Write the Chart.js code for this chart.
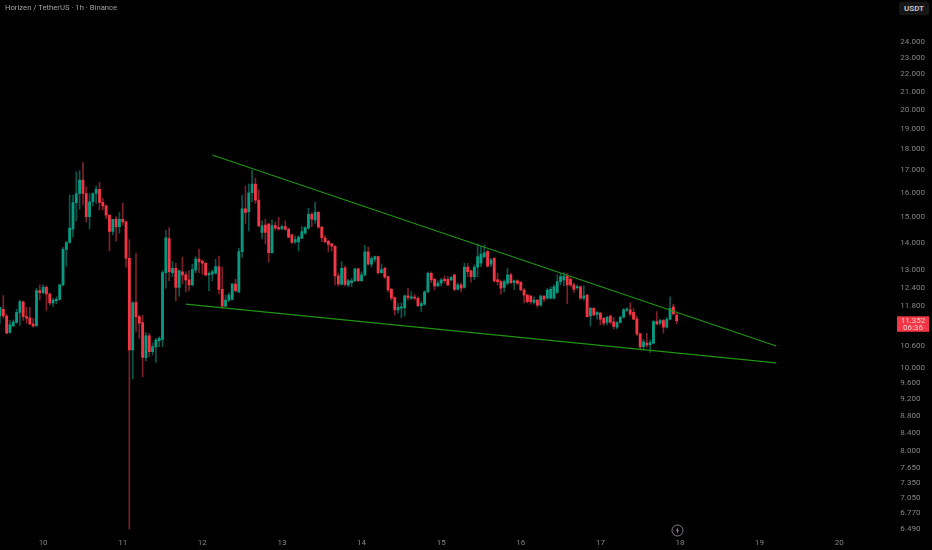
<!DOCTYPE html>
<html>
<head>
<meta charset="utf-8">
<title>Horizen / TetherUS</title>
<script src="https://cdn.jsdelivr.net/npm/chart.js@4"></script>
<style>
  html, body { margin: 0; background: #000; }
  #wrap { position: relative; width: 932px; height: 550px; overflow: hidden; }
  #title { position: absolute; left: 5px; top: 3px; font: 7.7px Roboto, sans-serif; color: #a79fa6; white-space: nowrap; }
  #unit { position: absolute; left: 899px; top: 2px; width: 30px; height: 13px; line-height: 13px; text-align: center;
          font: bold 8px/13px Roboto, sans-serif; color: #c4bec3; background: #161616; border-radius: 2px; }
  #flash { position: absolute; left: 671px; top: 524px; }
</style>
</head>
<body>
<div id="wrap">
  <canvas id="chart" width="932" height="550"></canvas>
  <div id="title">Horizen / TetherUS · 1h · Binance</div>
  <div id="unit">USDT</div>
  <svg id="flash" width="13" height="13" viewBox="0 0 13 13">
    <circle cx="6.5" cy="6.5" r="5.5" fill="none" stroke="#8a7f86" stroke-width="1"/>
    <path d="M7.2 3.2 L5 6.8 H6.2 L5.8 9.8 L8 6.2 H6.8 Z" fill="#a88f9b"/>
  </svg>
</div>
<script>
const opens = [
  11.50,11.71,11.50,11.00,11.20,11.30,11.61,11.94,11.48,11.44,
  11.26,11.20,12.31,12.24,12.42,12.20,11.91,11.98,12.02,12.50,
  13.75,14.01,14.53,15.59,15.98,16.57,15.98,15.02,15.63,15.98,
  16.16,15.60,15.46,15.08,14.43,14.92,14.62,14.91,14.81,13.43,
  10.50,11.93,11.48,11.30,10.28,10.90,10.45,10.58,10.76,10.80,
  12.92,14.16,12.92,13.07,12.42,12.95,12.84,12.67,12.50,13.01,
  13.40,13.33,13.25,12.84,12.87,12.90,13.13,12.35,11.81,12.00,
  12.02,12.53,12.27,13.67,15.33,15.22,16.01,16.39,15.70,14.39,
  14.68,14.72,13.63,14.66,14.58,14.53,14.62,14.52,14.30,14.03,
  14.03,14.16,14.36,14.56,15.11,14.88,15.19,14.60,14.19,14.06,
  13.96,13.87,12.81,12.52,13.09,12.50,12.58,12.64,13.05,12.64,
  12.84,13.66,13.22,13.40,13.49,12.92,13.07,12.78,12.35,12.08,
  11.69,11.74,11.76,12.14,12.06,12.10,12.06,11.82,11.87,12.27,
  12.90,12.69,12.47,12.56,12.70,12.69,12.67,12.84,12.35,12.50,
  12.42,13.11,12.98,12.78,13.11,13.25,13.49,13.67,13.22,13.43,
  12.67,12.61,12.42,12.56,12.84,12.58,12.64,12.59,12.33,12.16,
  12.13,11.93,12.00,11.84,12.13,12.06,12.06,12.06,12.25,12.61,
  12.67,12.80,12.69,12.50,12.41,12.44,12.06,12.16,11.50,11.74,
  11.54,11.59,11.43,11.30,11.50,11.32,11.16,11.30,11.46,11.68,
  11.69,11.61,11.41,10.96,10.59,10.69,10.64,10.69,11.33,11.28,
  11.36,11.16,11.40,11.79,11.53
];
const highs = [
  11.77,12.15,11.56,11.36,11.38,11.71,12.00,11.98,11.77,11.77,
  11.43,12.39,12.50,12.50,12.47,12.24,12.06,12.11,12.52,13.83,
  14.04,15.91,15.91,16.94,16.99,17.37,16.27,15.98,16.01,16.30,
  16.47,15.77,15.50,15.08,14.91,15.02,15.18,15.56,14.85,14.12,
  11.95,13.61,11.53,11.53,11.00,10.98,10.69,10.83,10.88,12.99,
  14.47,14.58,13.31,13.25,12.99,13.47,12.95,12.99,13.22,13.49,
  13.76,13.37,13.27,12.95,13.01,13.39,13.51,13.11,12.16,12.24,
  12.56,12.69,13.79,15.91,16.30,16.39,17.00,16.65,16.13,14.85,
  14.91,14.75,14.88,14.81,14.99,14.68,14.85,14.56,14.33,14.26,
  14.26,14.62,14.62,15.36,15.18,15.60,15.22,14.62,14.26,14.10,
  13.98,13.89,12.90,13.31,13.15,12.69,12.72,13.07,13.07,12.95,
  13.89,13.84,13.49,13.51,13.51,13.22,13.11,12.80,12.39,12.11,
  11.89,11.91,12.16,12.39,12.27,12.19,12.11,11.95,12.30,12.95,
  12.95,12.72,12.64,12.72,12.80,12.78,12.78,12.86,12.56,12.56,
  13.25,13.25,13.01,13.19,13.96,13.87,13.92,13.73,13.43,13.45,
  12.90,12.67,12.67,13.07,12.90,12.67,12.67,12.61,12.39,12.20,
  12.16,12.11,12.02,12.16,12.15,12.39,12.44,12.50,12.84,12.90,
  12.92,12.90,12.75,12.56,12.50,12.47,12.47,12.20,11.77,11.76,
  11.64,11.61,11.46,11.50,11.53,11.46,11.33,11.50,11.74,11.76,
  11.91,11.74,11.50,10.98,10.80,10.98,10.78,11.36,11.64,11.40,
  11.40,11.46,12.11,11.87,11.59
];
const lows = [
  11.28,11.43,10.96,10.98,11.18,11.28,11.21,11.36,11.28,11.23,
  11.16,11.20,12.00,12.20,11.67,11.84,11.79,11.89,12.00,12.47,
  13.15,13.97,14.21,14.85,15.32,15.50,14.81,14.53,15.46,15.56,
  15.29,15.29,14.95,13.70,14.30,14.07,14.36,14.68,13.11,6.49,
  9.71,11.03,10.83,9.77,10.20,10.31,10.36,10.15,10.59,10.59,
  12.39,12.64,12.78,11.98,12.13,12.53,12.27,12.31,12.47,12.92,
  12.92,12.87,12.80,12.31,12.64,12.87,12.20,11.74,11.79,11.95,
  12.00,12.27,12.24,13.47,14.75,14.45,15.63,15.56,14.62,14.16,
  13.96,13.29,13.61,14.49,14.47,14.49,14.47,14.18,13.97,13.97,
  13.70,14.16,14.33,14.52,14.62,14.75,14.56,14.03,14.00,13.67,
  13.70,12.50,12.47,12.50,12.47,12.44,12.44,12.61,12.61,12.61,
  12.81,13.19,13.11,13.31,12.87,12.90,12.72,12.27,12.00,11.53,
  11.59,11.45,11.50,12.00,12.02,12.00,11.79,11.64,11.84,12.25,
  12.58,12.33,12.44,12.47,12.58,12.47,12.64,12.31,12.33,12.27,
  12.39,12.78,12.59,12.67,12.78,13.13,13.43,13.11,13.13,12.59,
  12.50,12.19,12.27,12.50,12.53,12.35,12.50,12.31,11.91,11.91,
  11.87,11.87,11.77,11.81,11.95,12.03,12.03,12.03,12.22,12.50,
  12.47,11.89,12.44,12.24,12.35,12.02,12.00,11.46,11.20,11.51,
  11.40,11.23,11.21,11.23,11.26,11.11,11.11,11.28,11.43,11.64,
  11.50,11.38,10.90,10.52,10.50,10.58,10.43,10.67,11.23,11.23,
  10.98,11.13,11.38,11.53,11.26
];
const closes = [
  11.77,11.50,10.98,11.23,11.31,11.61,11.95,11.48,11.43,11.26,
  11.20,12.31,12.24,12.42,12.20,11.91,12.00,12.03,12.50,13.75,
  14.01,14.56,15.59,15.98,16.57,15.98,15.02,15.63,15.98,16.16,
  15.60,15.46,15.08,14.43,14.91,14.62,14.91,14.81,13.43,10.50,
  11.91,11.48,11.28,10.29,10.90,10.45,10.59,10.78,10.83,12.92,
  14.19,12.95,13.07,12.42,12.99,12.84,12.67,12.50,13.03,13.40,
  13.31,13.25,12.84,12.90,12.95,13.13,12.35,11.81,12.00,12.16,
  12.53,12.31,13.67,15.33,15.19,16.01,16.39,15.70,14.65,14.65,
  14.39,13.63,14.66,14.56,14.53,14.62,14.52,14.21,14.01,14.12,
  14.21,14.43,14.58,15.11,14.91,15.19,14.60,14.19,14.03,13.94,
  13.87,12.81,12.53,13.07,12.52,12.64,12.64,13.05,12.64,12.84,
  13.66,13.22,13.42,13.49,12.92,13.03,12.76,12.33,12.06,11.69,
  11.77,11.79,12.14,12.08,12.11,12.06,11.82,11.89,12.27,12.90,
  12.67,12.47,12.56,12.67,12.64,12.50,12.76,12.35,12.50,12.39,
  13.11,12.95,12.78,13.11,13.49,13.58,13.63,13.15,13.37,12.64,
  12.61,12.39,12.61,12.84,12.58,12.64,12.56,12.33,12.16,11.95,
  11.95,12.00,11.84,12.13,12.03,12.33,12.35,12.44,12.61,12.78,
  12.80,12.50,12.50,12.35,12.44,12.06,12.14,11.48,11.74,11.53,
  11.61,11.40,11.28,11.46,11.31,11.18,11.30,11.46,11.69,11.71,
  11.56,11.40,10.96,10.59,10.73,10.64,10.71,11.33,11.26,11.36,
  11.16,11.40,11.74,11.56,11.352
];

const priceTicks = [24, 23, 22, 21, 20, 19, 18, 17, 16, 15, 14, 13, 12.4, 11.8, 10.6, 10, 9.6, 9.2, 8.8, 8.4, 8, 7.65, 7.35, 7.05, 6.77, 6.49];
const dayTicks = [10, 11, 12, 13, 14, 15, 16, 17, 18, 19, 20];
const firstDaySlot = 13; // hour slot where "10" sits
const slotCount = 270;   // candles plus the empty space on the right

// trend lines: [hour slot, price]
const upperLine = [[64, 17.72], [234, 10.61]];
const lowerLine = [[56, 11.87], [234, 10.14]];

const countdown = "06:36";

const GREEN = "#089981";
const RED = "#f23645";
const GREEN_WICK = "#0a584d";
const RED_WICK = "#7d2029";
const AXIS_TEXT = "#858585";
const LINE_GREEN = "#1f9410";

const slots = [];
for (let i = 0; i < slotCount; i++) slots.push(i);

function isUp(i) { return closes[i] >= opens[i]; }

const priceTag = {
  id: "priceTag",
  afterDraw(chart) {
    const ctx = chart.ctx;
    const last = closes[closes.length - 1];
    const y = chart.scales.y.getPixelForValue(last);
    ctx.save();
    ctx.fillStyle = RED;
    ctx.fillRect(897, y - 4.5, 32, 15.5);
    ctx.fillStyle = "#f5c9cd";
    ctx.font = "8px Roboto, sans-serif";
    ctx.textAlign = "center";
    ctx.textBaseline = "middle";
    ctx.fillText(last.toFixed(3), 913, y);
    ctx.fillText(countdown, 913, y + 7);
    ctx.restore();
  }
};

new Chart(document.getElementById("chart"), {
  data: {
    labels: slots,
    datasets: [
      {
        type: "line",
        order: 0,
        data: upperLine.map(p => ({ x: p[0], y: p[1] })),
        borderColor: LINE_GREEN,
        borderWidth: 1.2,
        pointRadius: 0
      },
      {
        type: "line",
        order: 0,
        data: lowerLine.map(p => ({ x: p[0], y: p[1] })),
        borderColor: LINE_GREEN,
        borderWidth: 1.2,
        pointRadius: 0
      },
      {
        type: "bar",
        order: 1,
        grouped: false,
        barThickness: 2.2,
        minBarLength: 1,
        data: opens.map((o, i) => [o, closes[i]]),
        backgroundColor: opens.map((o, i) => isUp(i) ? GREEN : RED)
      },
      {
        type: "bar",
        order: 2,
        grouped: false,
        barThickness: 1,
        data: lows.map((l, i) => [l, highs[i]]),
        backgroundColor: lows.map((l, i) => isUp(i) ? GREEN_WICK : RED_WICK)
      }
    ]
  },
  options: {
    responsive: false,
    animation: false,
    layout: { padding: 0 },
    plugins: { legend: { display: false }, tooltip: { enabled: false } },
    scales: {
      x: {
        type: "category",
        offset: false,
        grid: { display: false, drawTicks: false },
        border: { display: false },
        afterFit(scale) { scale.height = 15; },
        ticks: {
          autoSkip: false,
          maxRotation: 0,
          padding: 3,
          color: AXIS_TEXT,
          font: { family: "Roboto", size: 8 },
          callback(v) {
            const d = (v - firstDaySlot) / 24;
            return Number.isInteger(d) && dayTicks.includes(dayTicks[0] + d) ? String(dayTicks[0] + d) : null;
          }
        }
      },
      y: {
        type: "logarithmic",
        position: "right",
        min: 6.386,
        max: 26.87,
        bounds: "data",
        grid: { display: false, drawTicks: false },
        border: { display: false },
        afterFit(scale) { scale.width = 39.7; scale.paddingTop = 0; scale.paddingBottom = 0; },
        afterBuildTicks(scale) { scale.ticks = priceTicks.map(v => ({ value: v })); },
        ticks: {
          padding: 8,
          color: AXIS_TEXT,
          font: { family: "Roboto", size: 8 },
          callback(v) { return Number(v).toFixed(3); }
        }
      }
    }
  },
  plugins: [priceTag]
});
</script>
</body>
</html>
